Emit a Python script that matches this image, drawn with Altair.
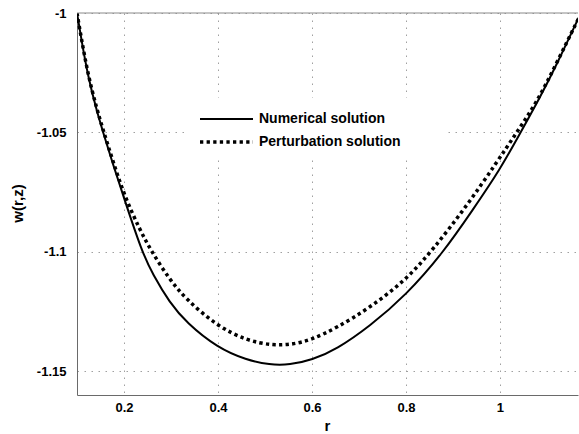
import altair as alt
import pandas as pd

# ---- data ----
r_num = [0.1000, 0.1094, 0.1234, 0.1413, 0.1553, 0.1760, 0.2000, 0.2377, 0.2617, 0.2972,
         0.3328, 0.3987, 0.4604, 0.5100, 0.5526, 0.6000, 0.6519, 0.7228, 0.8000, 0.8787,
         0.9426, 1.0000, 1.0426, 1.0851, 1.1206, 1.1673]
w_num = [-1.0000, -1.0112, -1.0265, -1.0405, -1.0498, -1.0630, -1.0775, -1.0998, -1.1097,
         -1.1213, -1.1297, -1.1402, -1.1453, -1.1474, -1.1474, -1.1453, -1.1409, -1.1312,
         -1.1182, -1.1005, -1.0823, -1.0656, -1.0505, -1.0354, -1.0216, -1.0020]

r_pert = [0.1000, 0.1094, 0.1234, 0.1413, 0.1553, 0.1760, 0.2000, 0.2334, 0.2583, 0.2972,
          0.3328, 0.3966, 0.4604, 0.5170, 0.5596, 0.6000, 0.6519, 0.7228, 0.8000, 0.8574,
          0.9285, 0.9923, 1.0349, 1.0775, 1.1200, 1.1673]
w_pert = [-1.0000, -1.0108, -1.0258, -1.0396, -1.0488, -1.0618, -1.0761, -1.0907, -1.0998,
          -1.1117, -1.1200, -1.1309, -1.1372, -1.1393, -1.1388, -1.1368, -1.1319, -1.1235,
          -1.1118, -1.0991, -1.0810, -1.0628, -1.0502, -1.0377, -1.0212, -1.0022]

series_names = ["Numerical solution", "Perturbation solution"]
x_ticks = [0.2, 0.4, 0.6, 0.8, 1.0]
y_ticks = [-1.15, -1.1, -1.05, -1.0]

df_num = pd.DataFrame({"r": r_num, "w": w_num, "series": series_names[0]})
df_pert = pd.DataFrame({"r": r_pert, "w": w_pert, "series": series_names[1]})

FONT = "Liberation Sans"
W, H = 501, 382

xscale = alt.Scale(domain=[0.1, 1.166], nice=False, zero=False)
yscale = alt.Scale(domain=[-1.16, -1.0], nice=False, zero=False)

common_axis = dict(
    grid=True, gridDash=[1.5, 5.5], gridColor="#a0a0a0", gridWidth=1,
    ticks=False, domainColor="#6a6a6a", domainWidth=1,
    labelFont=FONT, labelFontSize=13, labelFontWeight="bold", labelColor="black",
    titleFont=FONT, titleFontSize=15, titleFontWeight="bold", titleColor="black",
    labelExpr="'' + datum.value",
)

xaxis = alt.Axis(values=x_ticks, title="r", labelPadding=6,
                 titleX=250, titleY=35, titleBaseline="alphabetic", **common_axis)
yaxis = alt.Axis(values=y_ticks, title="w(r,z)", labelPadding=11,
                 titleX=-60, titleY=190, titleAngle=-90, titleAlign="center",
                 titleBaseline="middle", **common_axis)

num_line = alt.Chart(df_num).mark_line(
    color="black", strokeWidth=2, interpolate="basis", clip=True
).encode(
    x=alt.X("r:Q", scale=xscale, axis=xaxis),
    y=alt.Y("w:Q", scale=yscale, axis=yaxis),
)

pert_line = alt.Chart(df_pert).mark_line(
    color="black", strokeWidth=3.5, strokeDash=[3.3, 3.3], strokeCap="butt",
    interpolate="basis", clip=True
).encode(
    x=alt.X("r:Q", scale=xscale),
    y=alt.Y("w:Q", scale=yscale),
)

one = pd.DataFrame({"k": [0]})

top_border = alt.Chart(one).mark_rule(color="#8a8a8a", strokeWidth=1).encode(
    x=alt.value(0), x2=alt.value(W), y=alt.value(0)
)

legend_box = alt.Chart(one).mark_rect(color="white").encode(
    x=alt.value(111), x2=alt.value(369), y=alt.value(85), y2=alt.value(147)
)
leg_solid = alt.Chart(one).mark_rule(color="black", strokeWidth=2).encode(
    x=alt.value(123), x2=alt.value(176), y=alt.value(106)
)
leg_dash = alt.Chart(one).mark_rule(
    color="black", strokeWidth=3.5, strokeDash=[3.3, 3.3], strokeCap="butt"
).encode(
    x=alt.value(123), x2=alt.value(176), y=alt.value(129)
)
leg_text1 = alt.Chart(pd.DataFrame({"label": [series_names[0]]})).mark_text(
    align="left", baseline="middle", font=FONT, fontSize=14, fontWeight="bold", color="black"
).encode(x=alt.value(182), y=alt.value(106), text="label:N")
leg_text2 = alt.Chart(pd.DataFrame({"label": [series_names[1]]})).mark_text(
    align="left", baseline="middle", font=FONT, fontSize=14, fontWeight="bold", color="black"
).encode(x=alt.value(182), y=alt.value(129), text="label:N")

chart = alt.layer(
    num_line, pert_line, top_border, legend_box, leg_solid, leg_dash, leg_text1, leg_text2
).properties(
    width=W, height=H,
    padding={"left": 77, "top": 13, "right": 1, "bottom": 39},
    autosize="none",
    background="white",
).configure_view(stroke=None)

chart.save("out.html", embed_options={"renderer": "svg", "actions": False})
